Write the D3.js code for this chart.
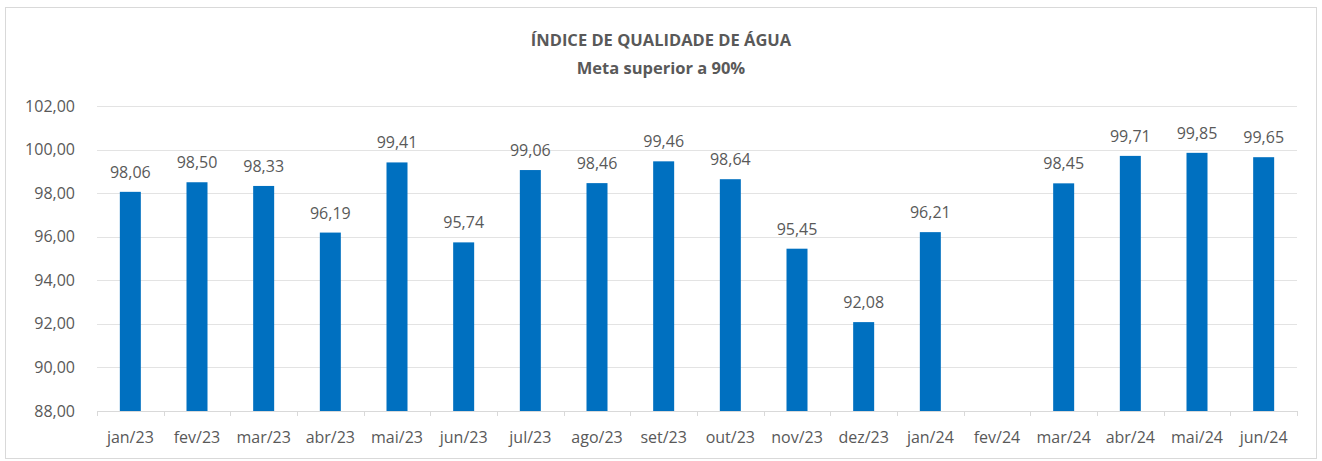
<!DOCTYPE html>
<html>
<head>
<meta charset="utf-8">
<script src="https://cdn.jsdelivr.net/npm/d3@7"></script>
<style>
  body { margin: 0; background: #fff; }
  svg text { font-family: "Open Sans", "Noto Sans", sans-serif; fill: #595959; }
</style>
</head>
<body>
<div id="chart"></div>
<script>
// data
const months = ["jan/23", "fev/23", "mar/23", "abr/23", "mai/23", "jun/23", "jul/23", "ago/23", "set/23",
  "out/23", "nov/23", "dez/23", "jan/24", "fev/24", "mar/24", "abr/24", "mai/24", "jun/24"];
const values = [98.06, 98.50, 98.33, 96.19, 99.41, 95.74, 99.06, 98.46, 99.46,
  98.64, 95.45, 92.08, 96.21, null, 98.45, 99.71, 99.85, 99.65];
const yTicks = [88, 90, 92, 94, 96, 98, 100, 102];
const title = "ÍNDICE DE QUALIDADE DE ÁGUA";
const subtitle = "Meta superior a 90%";

const W = 1322, H = 461;
const margin = {top: 106, right: 25, bottom: 50, left: 97};
const width = W - margin.left - margin.right;
const height = H - margin.top - margin.bottom;

const fmt = v => v.toFixed(2).replace(".", ",");

const svg = d3.select("#chart").append("svg")
    .attr("width", W)
    .attr("height", H);

// chart frame
svg.append("rect")
    .attr("x", 5.5).attr("y", 7.5)
    .attr("width", 1311).attr("height", 451)
    .attr("fill", "#fff")
    .attr("stroke", "#d9d9d9");

// titles
svg.append("text")
    .attr("x", 661).attr("y", 46)
    .attr("text-anchor", "middle")
    .style("font-size", "16.5px").style("font-weight", "bold")
    .text(title);
svg.append("text")
    .attr("x", 661).attr("y", 74)
    .attr("text-anchor", "middle")
    .style("font-size", "16.5px").style("font-weight", "bold")
    .text(subtitle);

const g = svg.append("g")
    .attr("transform", `translate(${margin.left},${margin.top})`);

const x = d3.scaleBand()
    .domain(months)
    .range([0, width])
    .paddingInner(0.685)
    .paddingOuter(0.3425);

const xTicks = d3.scaleBand().domain(months).range([0, width]);

const y = d3.scaleLinear()
    .domain([88, 102])
    .range([height, 0]);

// gridlines
g.selectAll(".grid")
    .data(yTicks.slice(1))
    .enter().append("line")
    .attr("class", "grid")
    .attr("x1", 0).attr("x2", width)
    .attr("y1", d => Math.round(y(d)) + 0.5)
    .attr("y2", d => Math.round(y(d)) + 0.5)
    .attr("stroke", "#e3e3e3");

// y axis labels
const yAxis = d3.axisLeft(y).tickValues(yTicks).tickSize(0).tickPadding(22).tickFormat(fmt);
g.append("g").attr("class", "y-axis").call(yAxis)
    .call(s => s.select(".domain").remove())
    .selectAll("text")
    .style("font-size", "16px")
    .attr("fill", "#595959");

// bars
g.selectAll(".bar")
    .data(months.map((m, i) => ({m: m, v: values[i]})).filter(d => d.v !== null))
    .enter().append("rect")
    .attr("class", "bar")
    .attr("x", d => x(d.m))
    .attr("width", x.bandwidth())
    .attr("y", d => y(d.v))
    .attr("height", d => height - y(d.v))
    .attr("fill", "#0070c0");

// value labels
g.selectAll(".lbl")
    .data(months.map((m, i) => ({m: m, v: values[i]})).filter(d => d.v !== null))
    .enter().append("text")
    .attr("class", "lbl")
    .attr("x", d => x(d.m) + x.bandwidth() / 2)
    .attr("y", d => y(d.v) - 14)
    .attr("text-anchor", "middle")
    .style("font-size", "16px")
    .text(d => fmt(d.v));

// x axis with ticks on band boundaries
const xAxisG = g.append("g").attr("transform", `translate(0,${height})`);
xAxisG.append("line")
    .attr("x1", 0).attr("x2", width)
    .attr("y1", 0.5).attr("y2", 0.5)
    .attr("stroke", "#d9d9d9");
xAxisG.selectAll(".xtick")
    .data(months.concat(["end"]))
    .enter().append("line")
    .attr("x1", (d, i) => Math.round(i * xTicks.step()) + 0.5)
    .attr("x2", (d, i) => Math.round(i * xTicks.step()) + 0.5)
    .attr("y1", 0).attr("y2", 5)
    .attr("stroke", "#d9d9d9");
xAxisG.selectAll(".xlbl")
    .data(months)
    .enter().append("text")
    .attr("x", d => xTicks(d) + xTicks.bandwidth() / 2)
    .attr("y", 32)
    .attr("text-anchor", "middle")
    .style("font-size", "16px")
    .text(d => d);
</script>
</body>
</html>
